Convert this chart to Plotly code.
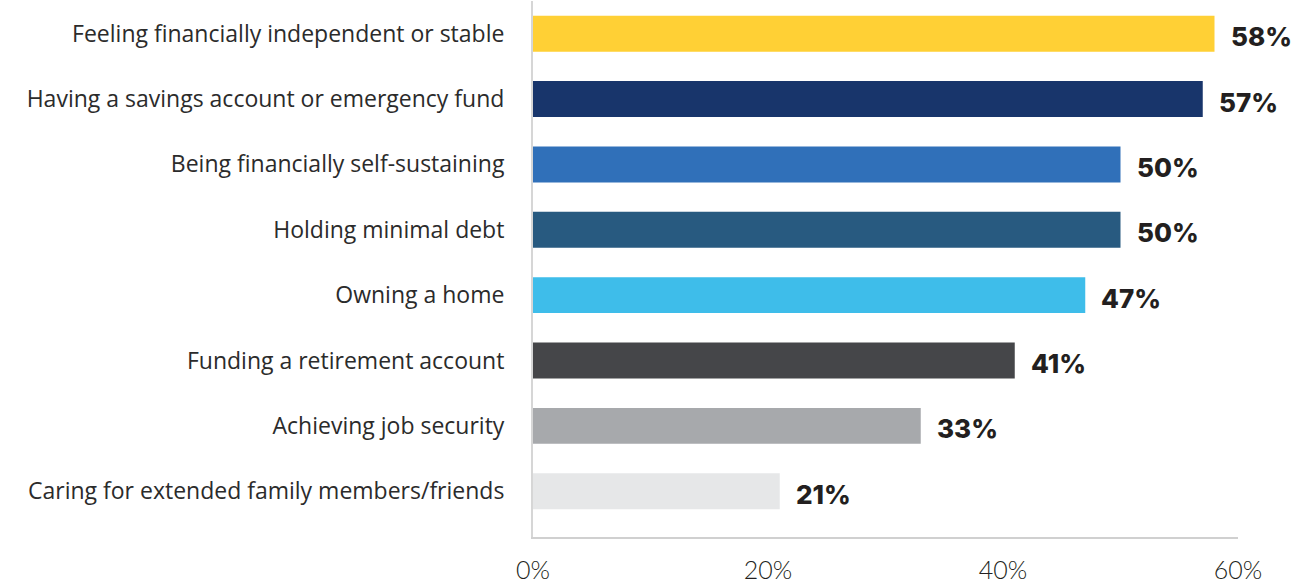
import plotly.graph_objects as go

# Survey items, listed bottom-to-top as they appear on the y axis
categories = [
    "Caring for extended family members/friends",
    "Achieving job security",
    "Funding a retirement account",
    "Owning a home",
    "Holding minimal debt",
    "Being financially self-sustaining",
    "Having a savings account or emergency fund",
    "Feeling financially independent or stable",
]
values = [21, 33, 41, 47, 50, 50, 57, 58]
bar_colors = [
    "#E6E7E8",
    "#A7A9AC",
    "#454649",
    "#3EBDEA",
    "#285A80",
    "#3070B9",
    "#18356B",
    "#FFD035",
]
tick_values = [0, 20, 40, 60]
tick_labels = ["0%", "20%", "40%", "60%"]

fig = go.Figure()
fig.add_trace(go.Bar(
    x=values,
    y=categories,
    orientation="h",
    marker=dict(color=bar_colors, line=dict(width=0)),
    hoverinfo="skip",
    showlegend=False,
))

# Bold percentage labels just past the end of each bar
for cat, val in zip(categories, values):
    fig.add_annotation(
        x=val, y=cat, text=f"{val}%",
        xanchor="left", yanchor="middle", xshift=14, yshift=-3,
        showarrow=False,
        font=dict(family="Inter", size=26, color="#231F20", weight=800),
    )

fig.update_layout(
    width=1301, height=586,
    margin=dict(l=533, r=63, t=1, b=49),
    paper_bgcolor="white",
    plot_bgcolor="white",
    bargap=0.45,
    font=dict(family="Open Sans", color="#2B2B2B"),
)
fig.update_xaxes(
    range=[0, 60],
    tickvals=tick_values,
    ticktext=tick_labels,
    showgrid=False,
    zeroline=False,
    showline=True,
    linecolor="#D0D0D0",
    linewidth=2,
    ticks="",
    tickfont=dict(family="Lato", size=25, color="#231F20", weight=300),
    ticklabelstandoff=10,
)
fig.update_yaxes(
    range=[-0.7, 7.5],
    showgrid=False,
    zeroline=False,
    showline=True,
    linecolor="#D6D6D6",
    linewidth=2,
    ticks="",
    tickfont=dict(family="Open Sans", size=23, color="#2B2B2B"),
    ticklabelstandoff=22,
)

fig.write_html("out.html")
